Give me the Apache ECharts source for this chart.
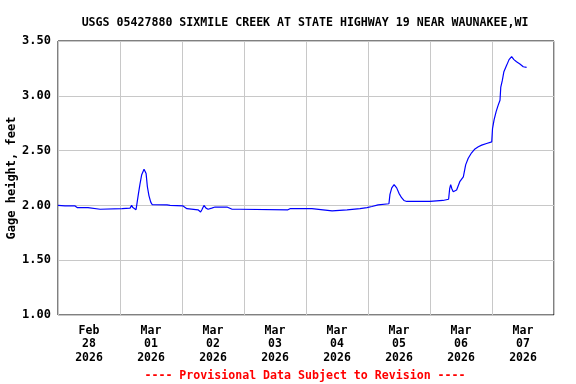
<!DOCTYPE html>
<html>
<head>
<meta charset="utf-8">
<script src="https://cdn.jsdelivr.net/npm/echarts@6/dist/echarts.min.js"></script>
<style>html,body{margin:0;padding:0;background:#fff;}#c{width:576px;height:384px;}</style>
</head>
<body>
<div id="c"></div>
<script>
// Tick labels (one per day, centered in each day band)
const dayLabels = ["Feb\n28\n2026","Mar\n01\n2026","Mar\n02\n2026","Mar\n03\n2026","Mar\n04\n2026","Mar\n05\n2026","Mar\n06\n2026","Mar\n07\n2026"];
// Hours since 2026-02-28 00:00 (local) for each reading
const hours = [0,2.7,6.6,7.4,11.6,12.0,16.3,16.6,24.8,27.9,28.5,29.0,30.2,30.8,31.1,31.7,32.4,33.3,34.1,34.6,35.2,35.9,36.5,42.2,43.4,48.4,49.9,54.2,55.2,55.7,56.5,57.3,58.1,59.5,60.8,65.4,65.8,67.4,70.5,70.8,89.0,89.8,98.3,98.7,102.6,103.0,106.1,106.5,111.9,112.3,116.9,117.3,119.6,120.0,121.5,121.9,123.9,124.3,128.1,128.5,129.2,130.1,131.1,132.0,133.0,133.9,135.0,144.0,144.4,149.0,149.4,151.2,151.6,152.0,152.5,153.0,154.3,155.6,156.9,157.8,158.8,160.1,161.4,162.7,164.0,165.9,167.9,168.2,168.8,169.6,170.4,171.1,171.4,172.0,172.6,173.7,174.6,175.6,176.5,177.5,178.8,180.1,181.4];
// Gage height, feet
const gage = [2.00,1.995,1.995,1.98,1.98,1.965,1.965,1.97,1.97,1.975,2.00,1.98,1.96,1.965,2.10,2.19,2.28,2.33,2.29,2.17,2.09,2.03,2.006,2.005,2.00,1.995,1.97,1.96,1.94,1.96,2.00,1.975,1.965,1.975,1.985,1.985,1.975,1.965,1.965,1.96,1.96,1.97,1.97,1.96,1.96,1.95,1.95,1.96,1.96,1.97,1.97,1.98,1.98,1.99,1.99,2.005,2.005,2.015,2.015,2.10,2.16,2.19,2.16,2.11,2.07,2.045,2.036,2.036,2.045,2.045,2.05,2.056,2.15,2.19,2.15,2.125,2.14,2.22,2.26,2.37,2.43,2.48,2.515,2.535,2.55,2.565,2.58,2.70,2.78,2.855,2.915,2.96,3.08,3.14,3.22,3.28,3.33,3.357,3.33,3.31,3.29,3.265,3.26];
const titleText = "USGS 05427880 SIXMILE CREEK AT STATE HIGHWAY 19 NEAR WAUNAKEE,WI";
const footerText = "---- Provisional Data Subject to Revision ----";

const t0 = new Date(2026, 1, 28, 0, 0, 0).getTime();
const H = 3600 * 1000;
const seriesData = hours.map((h, i) => [t0 + h * H, gage[i]]);
const FONT = '"DejaVu Sans Mono", monospace';

const chart = echarts.init(document.getElementById('c'), null, {renderer: 'canvas'});
chart.setOption({
  animation: false,
  backgroundColor: '#fff',
  title: [
    {text: titleText, left: 300, top: 12, textAlign: 'center',
     textStyle: {fontFamily: FONT, fontWeight: 'bold', fontSize: 11.6, color: '#000'}},
    {text: footerText, left: 300, top: 365, textAlign: 'center',
     textStyle: {fontFamily: FONT, fontWeight: 'bold', fontSize: 11.6, color: '#ff0000'}}
  ],
  grid: {left: 58, right: 22, top: 41, bottom: 69, show: true, borderColor: '#000', borderWidth: 1,
         containLabel: false, outerBoundsMode: 'none'},
  xAxis: [
    {type: 'category', data: dayLabels, boundaryGap: true,
     axisLine: {show: false}, axisTick: {show: false},
     splitLine: {show: true, lineStyle: {color: '#c8c8c8', width: 1}},
     axisLabel: {fontFamily: FONT, fontWeight: 'bold', fontSize: 11.5, color: '#000', lineHeight: 13.5, margin: 9, interval: 0}},
    {type: 'time', min: t0, max: t0 + 8 * 24 * H, show: false}
  ],
  yAxis: {
    type: 'value', min: 1, max: 3.5, interval: 0.5,
    name: 'Gage height, feet', nameLocation: 'middle', nameRotate: 90, nameGap: 40,
    nameMoveOverlap: false,
    nameTextStyle: {fontFamily: FONT, fontWeight: 'bold', fontSize: 12, color: '#000'},
    axisLine: {show: false}, axisTick: {show: false},
    splitLine: {show: true, lineStyle: {color: '#c8c8c8', width: 1}},
    axisLabel: {fontFamily: FONT, fontWeight: 'bold', fontSize: 12, color: '#000', margin: 7,
      formatter: v => v.toFixed(2)}
  },
  series: [{
    type: 'line', xAxisIndex: 1, data: seriesData, showSymbol: false, symbol: 'none',
    lineStyle: {color: '#0000ff', width: 1.2}, itemStyle: {color: '#0000ff'}
  }]
});
</script>
</body>
</html>
